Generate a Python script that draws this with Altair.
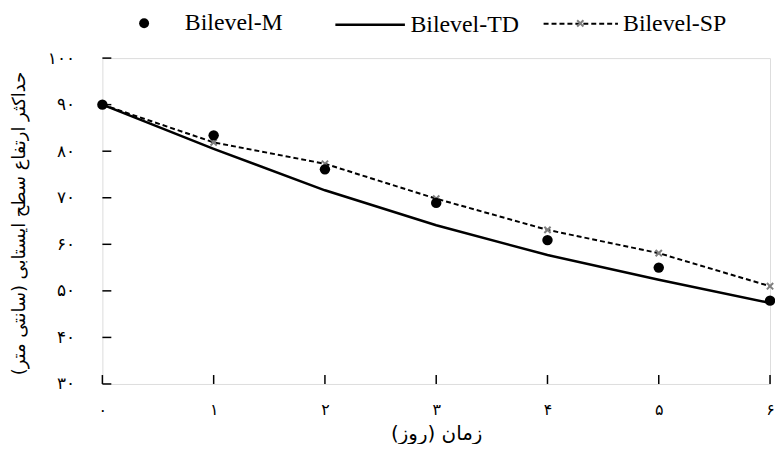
import altair as alt
import pandas as pd

# ---- data ----
days = [0, 1, 2, 3, 4, 5, 6]
bilevel_m = [90, 83.4, 76.1, 68.9, 60.9, 55.0, 47.9]
bilevel_td = [90, 80.5, 71.6, 64.1, 57.7, 52.4, 47.4]
bilevel_sp = [90, 81.9, 77.3, 69.8, 63.1, 58.1, 51.0]

x_ticks = [0, 1, 2, 3, 4, 5, 6]
x_tick_labels = ["۰", "۱", "۲", "۳", "۴", "۵", "۶"]
y_ticks = [30, 40, 50, 60, 70, 80, 90, 100]
y_tick_labels = ["۳۰", "۴۰", "۵۰", "۶۰", "۷۰", "۸۰", "۹۰", "۱۰۰"]

x_title = "زمان (روز)"
y_title = "حداکثر ارتفاع سطح ایستابی (سانتی متر)"

FONT = "Times New Roman, Liberation Serif, DejaVu Sans"
AFONT = "DejaVu Sans"

df_m = pd.DataFrame({"day": days, "value": bilevel_m, "series": "Bilevel-M"})
df_td = pd.DataFrame({"day": days, "value": bilevel_td, "series": "Bilevel-TD"})
df_sp = pd.DataFrame({"day": days, "value": bilevel_sp, "series": "Bilevel-SP"})
df_yt = pd.DataFrame({"v": y_ticks})
df_xt = pd.DataFrame({"d": x_ticks})


def lab_expr(vals, labs):
    return "[" + ",".join("'" + l + "'" for l in labs) + "][indexof([" + ",".join(str(v) for v in vals) + "], datum.value)]"


xscale = alt.Scale(domain=[0, 6], nice=False, zero=False)
yscale = alt.Scale(domain=[30, 100], nice=False, zero=False)

xaxis = alt.Axis(values=x_ticks, labelExpr=lab_expr(x_ticks, x_tick_labels), ticks=False, domain=False,
                 grid=False, labelFont=AFONT, labelFontSize=16, labelPadding=18, labelColor="black",
                 title=x_title, titleFont=AFONT, titleFontSize=20, titleFontWeight="normal",
                 titleX=336, titleY=50, titleBaseline="middle", titleAlign="center",
                 titleColor="black", labelFlush=False)
yaxis = alt.Axis(values=y_ticks, labelExpr=lab_expr(y_ticks, y_tick_labels), ticks=False, domain=False,
                 grid=False, labelFont=AFONT, labelFontSize=17, labelPadding=28, labelColor="black",
                 title=y_title, titleFont=AFONT, titleFontSize=18, titleFontWeight="normal",
                 titleX=-83, titleY=166, titleAngle=-90, titleBaseline="middle", titleAlign="center",
                 titleColor="black", labelFlush=False)

X = alt.X("day:Q", scale=xscale, axis=xaxis)
Y = alt.Y("value:Q", scale=yscale, axis=yaxis)

leg_common = dict(orient="none", title=None, labelFont=FONT, labelFontSize=24, labelColor="black")

td_line = alt.Chart(df_td).mark_line(color="black", strokeWidth=2.5).encode(
    x=X, y=Y,
    color=alt.Color("series:N", scale=alt.Scale(domain=["Bilevel-TD"], range=["black"]),
                    legend=alt.Legend(legendX=233, legendY=-70, symbolType="stroke", symbolSize=4900,
                                      symbolStrokeWidth=2.5, labelOffset=4, **leg_common)),
)

sp_line = alt.Chart(df_sp).mark_line(color="black", strokeWidth=2, strokeDash=[5, 3]).encode(
    x=X, y=Y,
    color=alt.Color("series:N", scale=alt.Scale(domain=["Bilevel-SP"], range=["black"]),
                    legend=alt.Legend(legendX=443, legendY=-73, symbolType="stroke", symbolSize=5600,
                                      symbolStrokeWidth=2, symbolDash=[5, 3], labelOffset=4,
                                      **leg_common)),
)

XSHAPE = "M-1,-1L1,1M1,-1L-1,1"
sp_pts = alt.Chart(df_sp).mark_point(shape=XSHAPE, filled=False, size=40, strokeWidth=2, opacity=1).encode(
    x=X, y=Y,
    color=alt.Color("series:N", scale=alt.Scale(domain=["Bilevel-SP"], range=["#7f7f7f"]),
                    legend=alt.Legend(legendX=469, legendY=-47, symbolType=XSHAPE, symbolSize=40,
                                      symbolStrokeWidth=2, labelExpr="''", **leg_common)),
)

m_pts = alt.Chart(df_m).mark_point(shape="circle", filled=True, size=110, opacity=1).encode(
    x=X, y=Y,
    color=alt.Color("series:N", scale=alt.Scale(domain=["Bilevel-M"], range=["black"]),
                    legend=alt.Legend(legendX=30, legendY=-47, symbolType="circle", symbolSize=100,
                                      labelOffset=29, **leg_common)),
)

ytick_rules = alt.Chart(df_yt).mark_rule(color="black", strokeWidth=1.5).encode(
    y=alt.Y("v:Q", scale=yscale, axis=yaxis), x=alt.value(0), x2=alt.value(9)
)
xtick_rules = alt.Chart(df_xt).mark_rule(color="black", strokeWidth=1.5).encode(
    x=alt.X("d:Q", scale=xscale, axis=xaxis), y=alt.value(328), y2=alt.value(319)
)

chart = alt.layer(ytick_rules, xtick_rules, td_line, sp_line, sp_pts, m_pts).resolve_scale(
    color="independent"
).properties(
    width=672, height=328,
    autosize=alt.AutoSizeParams(type="none"),
    padding={"left": 95, "top": 49, "right": 5, "bottom": 59},
).configure_view(
    stroke="black", strokeWidth=1.5
).configure(background="white")

chart.save("out.html", embed_options={"renderer": "svg", "actions": False})
